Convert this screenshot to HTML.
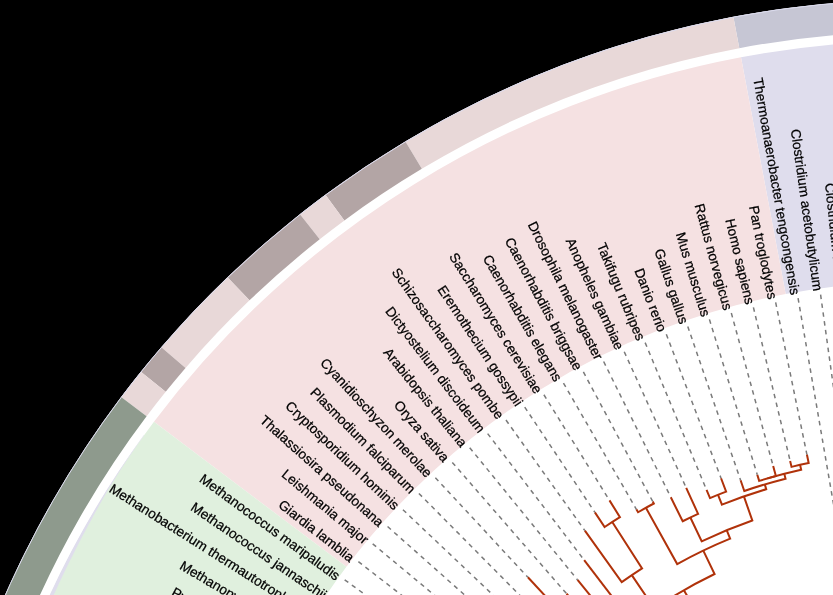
<!DOCTYPE html><html><head><meta charset="utf-8"><style>html,body{margin:0;padding:0;background:#000;overflow:hidden}svg{display:block}</style></head><body>
<svg width="833" height="595" viewBox="0 0 833 595">
<rect width="833" height="595" fill="#000000"/>
<circle cx="918.5" cy="997.9" r="998.4" fill="#ffffff"/>
<path d="M1417.70,133.26A998.4,998.4 0 0 0 733.37,16.81L739.29,48.16A966.5,966.5 0 0 1 1401.75,160.89Z" fill="#c6c6d4"/>
<path d="M733.37,16.81A998.4,998.4 0 0 0 405.42,141.42L421.82,168.79A966.5,966.5 0 0 1 739.29,48.16Z" fill="#e8d8d8"/>
<path d="M405.42,141.42A998.4,998.4 0 0 0 325.42,194.74L344.37,220.40A966.5,966.5 0 0 1 421.82,168.79Z" fill="#b3a5a5"/>
<path d="M325.42,194.74A998.4,998.4 0 0 0 299.95,214.20L319.71,239.24A966.5,966.5 0 0 1 344.37,220.40Z" fill="#e8d8d8"/>
<path d="M299.95,214.20A998.4,998.4 0 0 0 227.43,277.32L249.51,300.35A966.5,966.5 0 0 1 319.71,239.24Z" fill="#b3a5a5"/>
<path d="M227.43,277.32A998.4,998.4 0 0 0 161.33,347.13L185.52,367.93A966.5,966.5 0 0 1 249.51,300.35Z" fill="#e8d8d8"/>
<path d="M161.33,347.13A998.4,998.4 0 0 0 140.83,371.78L165.68,391.78A966.5,966.5 0 0 1 185.52,367.93Z" fill="#b3a5a5"/>
<path d="M140.83,371.78A998.4,998.4 0 0 0 121.13,397.07L146.60,416.26A966.5,966.5 0 0 1 165.68,391.78Z" fill="#e8d8d8"/>
<path d="M121.13,397.07A998.4,998.4 0 0 0 -19.69,1339.37L10.29,1328.46A966.5,966.5 0 0 1 146.60,416.26Z" fill="#8e9a8d"/>
<path d="M1397.15,168.85A957.3,957.3 0 0 0 740.99,57.20L785.68,294.02A716.3,716.3 0 0 1 1276.65,377.57Z" fill="#dfdded"/>
<path d="M740.99,57.20A957.3,957.3 0 0 0 153.95,421.80L346.43,566.83A716.3,716.3 0 0 1 785.68,294.02Z" fill="#f5e1e2"/>
<path d="M153.95,421.80A957.3,957.3 0 0 0 18.93,1325.32L245.40,1242.89A716.3,716.3 0 0 1 346.43,566.83Z" fill="#e0f0de"/>
<path d="M144.03,435.21L141.62,438.63 L139.23,442.05 L136.85,445.49 L134.49,448.93 L132.14,452.38 L129.81,455.85 L127.49,459.32 L125.19,462.81 L122.91,466.30 L120.64,469.81 L118.38,473.32 L116.14,476.84 L113.92,480.38 L111.71,483.92 L109.52,487.47 L107.34,491.03 L105.26,494.65 L103.18,498.27 L101.13,501.91 L99.09,505.55 L97.07,509.20 L95.06,512.86 L93.07,516.53 L91.10,520.20 L89.10,523.86 L87.11,527.52 L85.14,531.19 L83.18,534.87 L81.24,538.56 L79.32,542.26 L77.41,545.97 L75.52,549.68 L73.65,553.40 L71.79,557.13 L69.95,560.87 L68.12,564.61 L66.28,568.34 L64.45,572.09 L62.64,575.83 L60.84,579.59 L59.06,583.36 L57.30,587.13 L55.55,590.91 L53.82,594.69 L52.11,598.49 L50.41,602.29 L48.73,606.10 L47.07,609.91 L45.40,613.73 L43.75,617.55 L42.12,621.38 L40.51,625.21 L38.91,629.06 L37.33,632.91 L35.76,636.76 L34.21,640.63 L32.68,644.49 L31.17,648.37 L29.67,652.25 L28.19,656.14 L26.73,660.04 L25.28,663.94 L23.85,667.85 L22.44,671.76 L21.05,675.68 L19.67,679.61 L18.31,683.54 L16.96,687.48 L15.64,691.42 L14.33,695.37 L13.04,699.32 L11.76,703.28L7.77,701.99A957.5999999999999,957.5999999999999 0 0 1 143.79,435.04Z" fill="#dfdded"/>
<path d="M1417.55,133.52A998.1,998.1 0 0 0 733.43,17.11" fill="none" stroke="#dcdcef" stroke-width="1"/>
<path d="M733.43,17.11A998.1,998.1 0 0 0 405.58,141.68" fill="none" stroke="#dcdcef" stroke-width="1"/>
<path d="M405.58,141.68A998.1,998.1 0 0 0 325.60,194.98" fill="none" stroke="#dcdcef" stroke-width="1"/>
<path d="M325.60,194.98A998.1,998.1 0 0 0 300.13,214.43" fill="none" stroke="#dcdcef" stroke-width="1"/>
<path d="M300.13,214.43A998.1,998.1 0 0 0 227.64,277.54" fill="none" stroke="#dcdcef" stroke-width="1"/>
<path d="M227.64,277.54A998.1,998.1 0 0 0 161.56,347.33" fill="none" stroke="#dcdcef" stroke-width="1"/>
<path d="M161.56,347.33A998.1,998.1 0 0 0 141.06,371.97" fill="none" stroke="#dcdcef" stroke-width="1"/>
<path d="M141.06,371.97A998.1,998.1 0 0 0 121.37,397.25" fill="none" stroke="#dcdcef" stroke-width="1"/>
<path d="M121.37,397.25A998.1,998.1 0 0 0 -19.41,1339.27" fill="none" stroke="#dcdcef" stroke-width="1"/>
<g stroke="#b0320a" stroke-width="2" fill="none" stroke-linejoin="miter" stroke-linecap="butt">
<path d="M806.91,454.54L808.66,463.06A546.0,546.0 0 0 0 791.54,466.87L790.12,460.93"/>
<path d="M773.16,466.10L775.88,476.04A541.0,541.0 0 0 0 759.20,480.89L757.28,474.67"/>
<path d="M800.08,464.90L801.17,469.78A541.0,541.0 0 0 0 767.52,478.40L767.52,478.40"/>
<path d="M784.27,473.82L785.51,478.66A536.0,536.0 0 0 0 744.30,491.00L740.60,480.21"/>
<path d="M721.05,478.25L726.13,491.61A541.6,541.6 0 0 0 709.98,498.05L706.55,489.84"/>
<path d="M764.79,484.41L766.22,489.20A531.0,531.0 0 0 0 721.95,504.62L718.03,494.77"/>
<path d="M686.20,487.80L698.10,513.92A531.8,531.8 0 0 0 682.67,521.25L670.79,497.23"/>
<path d="M743.91,496.42L752.30,520.50A505.5,505.5 0 0 0 701.64,541.28L690.36,517.52"/>
<path d="M652.76,501.56L653.80,503.50A560.8,560.8 0 0 0 638.07,512.25L636.37,509.31"/>
<path d="M726.69,530.21L730.14,538.63A496.4,496.4 0 0 0 677.20,564.09L645.90,507.81"/>
<path d="M609.48,500.35L619.93,517.17A565.9,565.9 0 0 0 604.65,527.01L594.89,512.36"/>
<path d="M612.25,522.03L642.07,568.36A510.8,510.8 0 0 0 621.71,582.17L584.87,530.57"/>
<path d="M703.30,550.57L714.57,574.00A470.4,470.4 0 0 0 654.48,608.58L631.80,575.14"/>
<line x1="683.89" y1="590.18" x2="728.97" y2="668.54"/>
<line x1="584.18" y1="560.04" x2="687.89" y2="695.87"/>
<line x1="577.56" y1="579.91" x2="678.31" y2="703.43"/>
<line x1="566.55" y1="593.64" x2="668.98" y2="711.30"/>
<line x1="527.89" y1="577.30" x2="659.91" y2="719.45"/>
</g>
<g stroke="#7a7a7a" stroke-width="1.5" stroke-dasharray="4.5 4.4" fill="none">
<line x1="865.92" y1="289.85" x2="890.36" y2="618.94"/>
<line x1="843.22" y1="291.90" x2="878.21" y2="620.04"/>
<line x1="820.59" y1="294.68" x2="866.10" y2="621.53"/>
<line x1="798.07" y1="298.19" x2="854.04" y2="623.41"/>
<line x1="775.66" y1="302.42" x2="806.91" y2="454.54"/>
<line x1="753.41" y1="307.36" x2="790.12" y2="460.93"/>
<line x1="731.32" y1="313.02" x2="773.16" y2="466.10"/>
<line x1="709.43" y1="319.38" x2="757.28" y2="474.67"/>
<line x1="687.76" y1="326.44" x2="740.60" y2="480.21"/>
<line x1="666.32" y1="334.20" x2="721.05" y2="478.25"/>
<line x1="645.14" y1="342.63" x2="706.55" y2="489.84"/>
<line x1="624.24" y1="351.75" x2="686.20" y2="487.80"/>
<line x1="603.65" y1="361.53" x2="670.79" y2="497.23"/>
<line x1="583.38" y1="371.96" x2="652.76" y2="501.56"/>
<line x1="563.46" y1="383.05" x2="636.37" y2="509.31"/>
<line x1="543.90" y1="394.76" x2="609.48" y2="500.35"/>
<line x1="524.73" y1="407.10" x2="594.89" y2="512.36"/>
<line x1="505.97" y1="420.05" x2="584.87" y2="530.57"/>
<line x1="487.63" y1="433.59" x2="584.18" y2="560.04"/>
<line x1="469.73" y1="447.71" x2="577.56" y2="579.91"/>
<line x1="452.30" y1="462.40" x2="566.55" y2="593.64"/>
<line x1="435.35" y1="477.65" x2="527.89" y2="577.30"/>
<line x1="418.89" y1="493.43" x2="651.10" y2="727.90"/>
<line x1="402.95" y1="509.73" x2="642.57" y2="736.62"/>
<line x1="387.55" y1="526.53" x2="634.33" y2="745.62"/>
<line x1="372.69" y1="543.82" x2="626.38" y2="754.87"/>
<line x1="358.39" y1="561.58" x2="618.72" y2="764.37"/>
<line x1="344.67" y1="579.78" x2="611.38" y2="774.12"/>
<line x1="331.54" y1="598.42" x2="604.35" y2="784.09"/>
<line x1="319.02" y1="617.47" x2="597.65" y2="794.29"/>
<line x1="307.12" y1="636.91" x2="591.28" y2="804.70"/>
<line x1="295.84" y1="656.73" x2="585.25" y2="815.30"/>
<line x1="285.21" y1="676.90" x2="579.56" y2="826.09"/>
<line x1="275.23" y1="697.39" x2="574.21" y2="837.07"/>
</g>
<g font-family="Liberation Sans, sans-serif" font-size="13.7" fill="#000" stroke="#000" stroke-width="0.25" text-anchor="end" opacity="0.999">
<text x="0" y="6.62" transform="translate(865.63,285.86) rotate(85.753)">Clostridium perfringens</text>
<text x="0" y="6.62" transform="translate(842.79,287.92) rotate(83.913)">Clostridium tetani</text>
<text x="0" y="6.72" transform="translate(820.04,290.72) rotate(82.074)">Clostridium acetobutylicum</text>
<text x="0" y="6.90" transform="translate(797.39,294.25) rotate(80.234)">Thermoanaerobacter tengcongensis</text>
<text x="0" y="6.96" transform="translate(774.86,298.50) rotate(78.394)">Pan troglodytes</text>
<text x="0" y="7.00" transform="translate(752.48,303.47) rotate(76.554)">Homo sapiens</text>
<text x="0" y="7.04" transform="translate(730.27,309.16) rotate(74.714)">Rattus norvegicus</text>
<text x="0" y="7.08" transform="translate(708.25,315.56) rotate(72.875)">Mus musculus</text>
<text x="0" y="7.12" transform="translate(686.46,322.66) rotate(71.035)">Gallus gallus</text>
<text x="0" y="7.21" transform="translate(664.88,330.40) rotate(69.195)">Danio rerio</text>
<text x="0" y="7.29" transform="translate(643.52,338.76) rotate(67.355)">Takifugu rubripes</text>
<text x="0" y="7.38" transform="translate(622.45,347.80) rotate(65.515)">Anopheles gambiae</text>
<text x="0" y="7.46" transform="translate(601.67,357.52) rotate(63.676)">Drosophila melanogaster</text>
<text x="0" y="7.55" transform="translate(581.20,367.90) rotate(61.836)">Caenorhabditis briggsae</text>
<text x="0" y="7.63" transform="translate(561.08,378.93) rotate(59.996)">Caenorhabditis elegans</text>
<text x="0" y="7.72" transform="translate(541.32,390.61) rotate(58.156)">Saccharomyces cerevisiae</text>
<text x="0" y="7.65" transform="translate(521.94,402.92) rotate(56.316)">Eremothecium gossypii</text>
<text x="0" y="7.56" transform="translate(502.97,415.84) rotate(54.477)">Schizosaccharomyces pombe</text>
<text x="0" y="7.48" transform="translate(484.41,429.37) rotate(52.637)">Dictyostelium discoideum</text>
<text x="0" y="7.39" transform="translate(466.29,443.50) rotate(50.797)">Arabidopsis thaliana</text>
<text x="0" y="7.31" transform="translate(448.64,458.20) rotate(48.957)">Oryza sativa</text>
<text x="0" y="7.22" transform="translate(431.46,473.46) rotate(47.118)">Cyanidioschyzon merolae</text>
<text x="0" y="7.14" transform="translate(414.77,489.27) rotate(45.278)">Plasmodium falciparum</text>
<text x="0" y="6.95" transform="translate(398.60,505.61) rotate(43.438)">Cryptosporidium hominis</text>
<text x="0" y="6.74" transform="translate(382.96,522.46) rotate(41.598)">Thalassiosira pseudonana</text>
<text x="0" y="6.52" transform="translate(367.87,539.81) rotate(39.758)">Leishmania major</text>
<text x="0" y="6.32" transform="translate(353.34,557.64) rotate(37.918)">Giardia lamblia</text>
<text x="0" y="6.32" transform="translate(339.38,575.93) rotate(36.079)">Methanococcus maripaludis</text>
<text x="0" y="6.32" transform="translate(326.02,594.66) rotate(34.239)">Methanococcus jannaschii</text>
<text x="0" y="6.32" transform="translate(313.26,613.82) rotate(32.399)">Methanobacterium thermautotrophicum</text>
<text x="0" y="6.32" transform="translate(301.12,633.38) rotate(30.559)">Methanopyrus kandleri</text>
<text x="0" y="6.32" transform="translate(289.62,653.32) rotate(28.719)">Pyrococcus horikoshii</text>
<text x="0" y="6.32" transform="translate(278.76,673.63) rotate(26.880)">Pyrococcus abyssi</text>
<text x="0" y="6.32" transform="translate(268.55,694.27) rotate(25.040)">Pyrococcus furiosus</text>
</g>
</svg></body></html>
